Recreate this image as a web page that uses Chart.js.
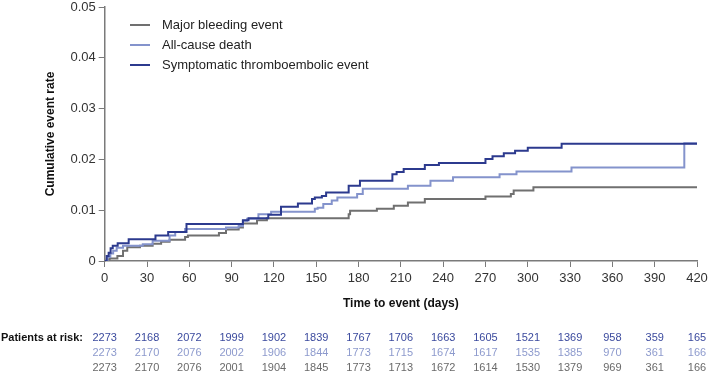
<!DOCTYPE html>
<html>
<head>
<meta charset="utf-8">
<script src="https://cdn.jsdelivr.net/npm/chart.js@4"></script>
<style>
  html, body { margin: 0; padding: 0; background: #fff; }
  #wrap { width: 709px; height: 392px; position: relative; }
</style>
</head>
<body>
<div id="wrap"><canvas id="km"></canvas></div>
<script>
// step times (days) and cumulative event rates
const bleedDays = [0, 1.4, 3.5, 9, 13, 16, 25, 34, 40, 46, 57, 59, 81, 86, 95, 98, 108, 115, 173, 174, 193, 205, 215, 227, 270, 288, 290, 304, 420];
const bleedRate = [0, 0.0003, 0.0005, 0.001, 0.002, 0.0027, 0.003, 0.0034, 0.0038, 0.0042, 0.0047, 0.005, 0.0055, 0.0062, 0.0066, 0.0074, 0.008, 0.0084, 0.0092, 0.0099, 0.0103, 0.0109, 0.0115, 0.0122, 0.0127, 0.0132, 0.0139, 0.0145, 0.0145];

const deathDays = [0, 2, 4, 6, 8.5, 13, 27, 34, 46, 50, 57, 86, 95, 98, 101, 109, 118, 149, 151, 155, 161, 165, 179, 183, 215, 231, 247, 280, 292, 331, 411, 420];
const deathRate = [0, 0.0008, 0.0015, 0.002, 0.0026, 0.003, 0.0033, 0.004, 0.005, 0.0057, 0.0063, 0.0066, 0.0069, 0.0079, 0.0083, 0.0092, 0.0097, 0.0103, 0.0105, 0.0112, 0.0119, 0.0125, 0.0132, 0.0142, 0.0148, 0.0158, 0.0165, 0.0171, 0.0176, 0.0184, 0.0232, 0.0232];

const vteDays = [0, 1.4, 2.8, 4.2, 5.7, 9.2, 17, 36, 45, 58, 98, 102, 116, 125, 137, 147, 149, 154, 157, 173, 181, 204, 207, 212, 227, 237, 270, 275, 283, 291, 300, 324, 420];
const vteRate = [0, 0.001, 0.0016, 0.0025, 0.003, 0.0035, 0.0043, 0.005, 0.0057, 0.0073, 0.008, 0.0084, 0.0091, 0.0107, 0.0113, 0.0122, 0.0125, 0.0128, 0.0135, 0.0148, 0.0158, 0.0171, 0.0175, 0.0181, 0.0189, 0.0193, 0.0201, 0.0206, 0.0212, 0.0217, 0.0223, 0.0231, 0.0231];

// patients at risk table
const riskDays = [0, 30, 60, 90, 120, 150, 180, 210, 240, 270, 300, 330, 360, 390, 420];
const riskVte = [2273, 2168, 2072, 1999, 1902, 1839, 1767, 1706, 1663, 1605, 1521, 1369, 958, 359, 165];
const riskDeath = [2273, 2170, 2076, 2002, 1906, 1844, 1773, 1715, 1674, 1617, 1535, 1385, 970, 361, 166];
const riskBleed = [2273, 2170, 2076, 2001, 1904, 1845, 1773, 1713, 1672, 1614, 1530, 1379, 969, 361, 166];

const seriesNames = ['Major bleeding event', 'All-cause death', 'Symptomatic thromboembolic event'];

const colBleed = '#707070';
const colDeath = '#8493cc';
const colVte = '#2c3a8e';
const axisCol = '#7a7a7a';
const font = 'Liberation Sans, Arial, sans-serif';

function pts(days, rate) {
  return days.map((d, i) => ({ x: d, y: rate[i] }));
}

// legend drawn inside the plot, like the original
const insideLegend = {
  id: 'insideLegend',
  afterDraw(chart) {
    const ctx = chart.ctx;
    const items = [[seriesNames[0], colBleed], [seriesNames[1], colDeath], [seriesNames[2], colVte]];
    ctx.save();
    ctx.font = '13px ' + font;
    ctx.textBaseline = 'middle';
    items.forEach((it, i) => {
      const y = 25 + i * 20;
      ctx.strokeStyle = it[1];
      ctx.lineWidth = 2;
      ctx.beginPath();
      ctx.moveTo(130, y);
      ctx.lineTo(150, y);
      ctx.stroke();
      ctx.fillStyle = '#222';
      ctx.fillText(it[0], 162, y);
    });
    ctx.restore();
  }
};

// patients-at-risk rows aligned to the x scale
const riskTable = {
  id: 'riskTable',
  afterDraw(chart) {
    const ctx = chart.ctx;
    const xs = chart.scales.x;
    ctx.save();
    ctx.textBaseline = 'middle';
    ctx.font = 'bold 11px ' + font;
    ctx.fillStyle = '#111';
    ctx.textAlign = 'left';
    ctx.fillText('Patients at risk:', 1, 338);
    ctx.font = '11px ' + font;
    ctx.textAlign = 'center';
    const rows = [[riskVte, '#3b4a9e', 338], [riskDeath, '#8d9acd', 353], [riskBleed, '#6a6a6a', 368]];
    rows.forEach(r => {
      ctx.fillStyle = r[1];
      riskDays.forEach((d, i) => {
        ctx.fillText(String(r[0][i]), xs.getPixelForValue(d), r[2]);
      });
    });
    ctx.restore();
  }
};

new Chart(document.getElementById('km').getContext('2d'), {
  type: 'line',
  data: {
    datasets: [
      { label: seriesNames[0], data: pts(bleedDays, bleedRate), borderColor: colBleed, order: 3 },
      { label: seriesNames[1], data: pts(deathDays, deathRate), borderColor: colDeath, order: 2 },
      { label: seriesNames[2], data: pts(vteDays, vteRate), borderColor: colVte, order: 1 }
    ]
  },
  options: {
    responsive: true,
    maintainAspectRatio: false,
    animation: false,
    layout: { padding: { left: 43, right: 0, top: 0, bottom: 81 } },
    elements: {
      line: { stepped: 'before', borderWidth: 2, fill: false, tension: 0 },
      point: { radius: 0 }
    },
    plugins: {
      legend: { display: false },
      tooltip: { enabled: false }
    },
    scales: {
      x: {
        type: 'linear',
        min: 0, max: 420,
        afterFit: s => { s.paddingRight = 12; },
        ticks: { stepSize: 30, color: '#333', font: { family: font, size: 13 }, padding: 4, maxRotation: 0 },
        grid: { drawOnChartArea: false, drawTicks: true, tickLength: 6, color: axisCol },
        border: { color: axisCol, width: 1.5 },
        title: { display: true, text: 'Time to event (days)', color: '#111', font: { family: font, size: 12, weight: 'bold' }, padding: { top: 6, bottom: 0 } }
      },
      y: {
        min: 0, max: 0.05,
        afterFit: s => { s.paddingTop = 7; },
        ticks: {
          stepSize: 0.01, color: '#333', font: { family: font, size: 13 }, padding: 3,
          callback: v => v === 0 ? '0' : v.toFixed(2)
        },
        grid: { drawOnChartArea: false, drawTicks: true, tickLength: 6, color: axisCol },
        border: { color: axisCol, width: 1.5 },
        title: { display: true, text: 'Cumulative event rate', color: '#111', font: { family: font, size: 12, weight: 'bold' }, padding: { top: 0, bottom: 10 } }
      }
    }
  },
  plugins: [insideLegend, riskTable]
});
</script>
</body>
</html>
